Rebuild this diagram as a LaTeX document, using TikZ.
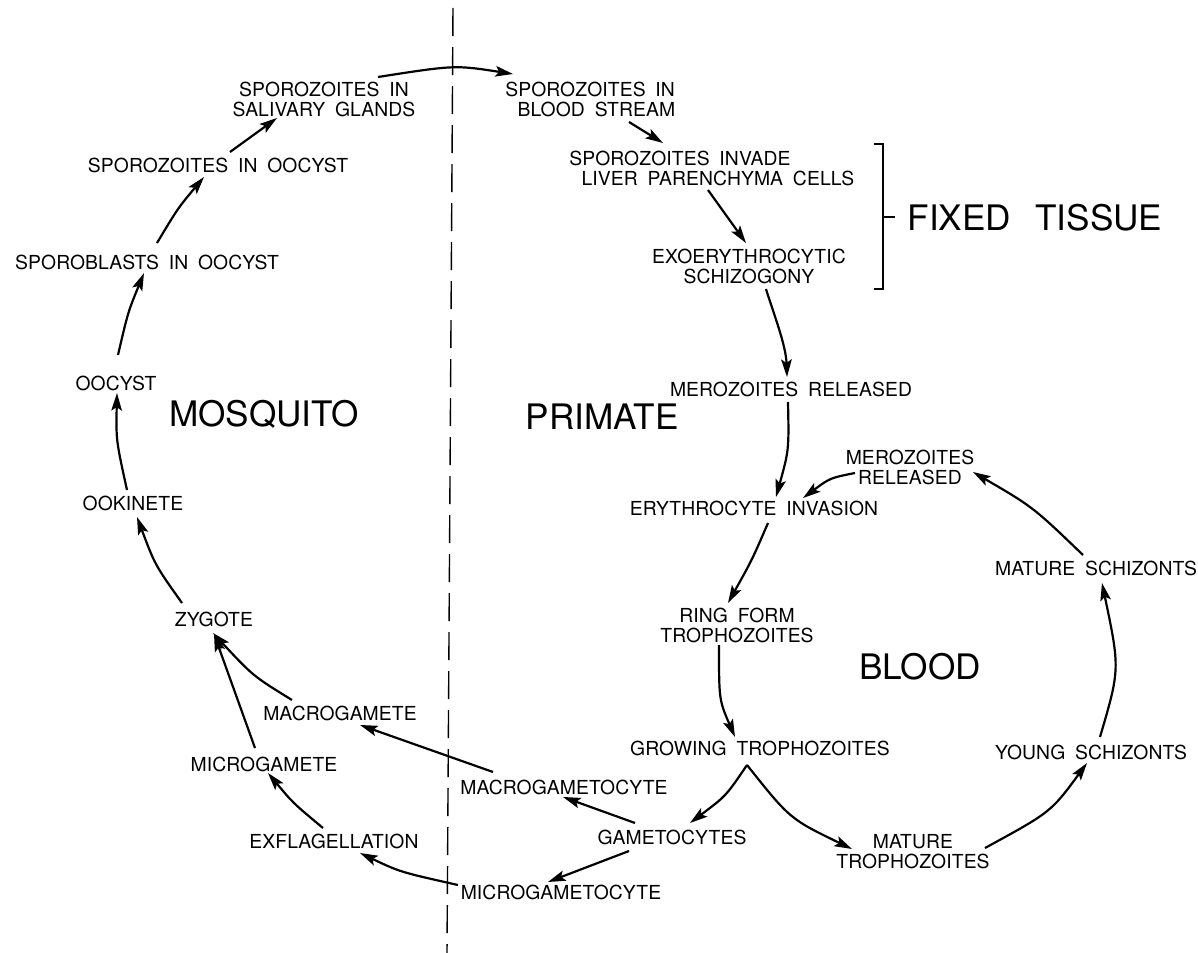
\documentclass[tikz,border=0pt]{standalone}
\usepackage{fontspec}
\setmainfont{TeX Gyre Heros}
\newfontfamily\lblfam{TeX Gyre Heros}[LetterSpace=0.5,WordSpace=1.8]
\newfontfamily\bigfam{TeX Gyre Heros}[WordSpace=2.5]
\usetikzlibrary{arrows.meta,calc}
\begin{document}
\begin{tikzpicture}[x=0.02cm,y=-0.02cm,
  lbl/.style={inner sep=0pt,font=\lblfam\fontsize{11}{11.4}\selectfont,align=center},
  bigl/.style={inner sep=0pt,font=\bigfam\fontsize{20}{24}\selectfont},
  arr/.style={line width=1.25pt,-{Stealth[length=10pt,width=6pt,inset=2pt]}},
  divider/.style={line width=0.8pt,dash pattern=on 16pt off 6.2pt},
  brk/.style={line width=0.8pt}]
\useasboundingbox[fill=white] (0,0) rectangle (1198,953);

% divider
\draw[divider] (453,8) -- (447,953);

% labels: mosquito side
\node[lbl] (sal) at (324,99) {SPOROZOITES IN\\SALIVARY GLANDS};
\node[lbl] (spoo) at (218,165) {SPOROZOITES IN OOCYST};
\node[lbl] (sbl) at (147,262) {SPOROBLASTS IN OOCYST};
\node[lbl] (ooc) at (116,383) {OOCYST};
\node[lbl] (ook) at (133,503) {OOKINETE};
\node[lbl] (zyg) at (214,619) {ZYGOTE};
\node[lbl] (macg) at (340,713) {MACROGAMETE};
\node[lbl] (micg) at (264,764) {MICROGAMETE};
\node[lbl] (exf) at (334,841) {EXFLAGELLATION};

% labels: primate side
\node[lbl] (macc) at (564,787) {MACROGAMETOCYTE};
\node[lbl] (gam) at (672,837) {GAMETOCYTES};
\node[lbl] (micc) at (561,892) {MICROGAMETOCYTE};
\node[lbl] (grow) at (760,748) {GROWING TROPHOZOITES};
\node[lbl] (mtro) at (913,852) {MATURE\\TROPHOZOITES};
\node[lbl] (ysch) at (1091,752) {YOUNG SCHIZONTS};
\node[lbl] (msch) at (1096,568) {MATURE SCHIZONTS};
\node[lbl] (bmer) at (910,467) {MEROZOITES\\RELEASED};
\node[lbl] (ery) at (754,508) {ERYTHROCYTE INVASION};
\node[lbl] (mer) at (791,389) {MEROZOITES RELEASED};
\node[lbl] (ring) at (737,625) {RING FORM\\TROPHOZOITES};
\node[lbl,align=left,anchor=west] (bst) at (505,99) {SPOROZOITES IN\\\hspace*{7pt}BLOOD STREAM};
\node[lbl,align=left,anchor=west] (inv) at (569,168) {SPOROZOITES INVADE\\\hspace*{7pt}LIVER PARENCHYMA CELLS};
\node[lbl] (exo) at (749,266) {EXOERYTHROCYTIC\\SCHIZOGONY};

% big labels
\node[bigl] (mosq) at (264,414) {MOSQUITO};
\node[bigl] (prim) at (602,417) {PRIMATE};
\node[bigl] (blood) at (920,667) {BLOOD};
\node[bigl] (fixed) at (1035,218) {FIXED TISSUE};

% bracket
\draw[brk] (874,144) -- (883,144) -- (883,289) -- (874,289);
\draw[brk] (883,217) -- (895,217);

% arrows: primate
\draw[arr] ($(sal)+(54,-22)$) .. controls (455,65) .. ($(bst.west)+(8,-25)$);
\draw[arr] ($(bst.west)+(124,23)$) -- ($(inv.west)+(94,-25)$);
\draw[arr] ($(inv.west)+(139,22)$) -- ($(exo)+(-3,-23)$);
\draw[arr] ($(exo)+(17,23)$) .. controls (773,312) and (786,345) .. ($(mer)+(-4,-12)$);
\draw[arr] ($(mer)+(-3,13)$) .. controls (789,450) .. ($(ery)+(22,-11)$);
\draw[arr] ($(bmer)+(-55,6)$) .. controls (830,478) .. ($(ery)+(49,-10)$);
\draw[arr] ($(ery)+(14,15)$) .. controls (752,560) .. ($(ring)+(-9,-22)$);
\draw[arr] ($(ring)+(-18,20)$) .. controls (719,700) .. ($(grow)+(-25,-11)$);
\draw[arr] ($(grow)+(-13,17)$) .. controls (726,796) .. ($(gam)+(18,-14)$);
\draw[arr] ($(grow)+(-13,17)$) .. controls (790,819) .. ($(mtro)+(-61,-3)$);
\draw[arr] ($(mtro)+(72,-4)$) .. controls (1051,812) .. ($(ysch)+(-4,11)$);
\draw[arr] ($(ysch)+(9,-15)$) .. controls (1120,669) .. ($(msch)+(6,15)$);
\draw[arr] ($(msch)+(-13,-13)$) .. controls (1033,507) .. ($(bmer)+(63,5)$);

% arrows: mosquito
\draw[arr] ($(spoo)+(12,-13)$) -- ($(sal)+(-47,19)$);
\draw[arr] ($(sbl)+(10,-19)$) .. controls (178,208) .. ($(spoo)+(-14,12)$);
\draw[arr] ($(ooc)+(2,-28)$) .. controls (128,312) .. ($(sbl)+(-3,11)$);
\draw[arr] ($(ook)+(-6,-13)$) .. controls (116,440) .. ($(ooc)+(1,10)$);
\draw[arr] ($(zyg)+(-32,-16)$) .. controls (155,565) .. ($(ook)+(4,14)$);
\draw[arr] ($(macg)+(-48,-13)$) .. controls (253,676) .. ($(zyg)+(-1,14)$);
\draw[arr] ($(micg)+(-9,-16)$) -- ($(zyg)+(0,15)$);
\draw[arr] ($(exf)+(-11,-13)$) .. controls (293,803) .. ($(micg)+(4,9)$);
\draw[arr] ($(micc)+(-103,-7)$) .. controls (400,872) .. ($(exf)+(26,12)$);
\draw[arr] ($(macc)+(-71,-15)$) -- ($(macg)+(20,12)$);
\draw[arr] ($(gam)+(-37,-14)$) -- ($(macc)+(-1,10)$);
\draw[arr] ($(gam)+(-43,14)$) -- ($(micc)+(-13,-10)$);
\end{tikzpicture}
\end{document}
